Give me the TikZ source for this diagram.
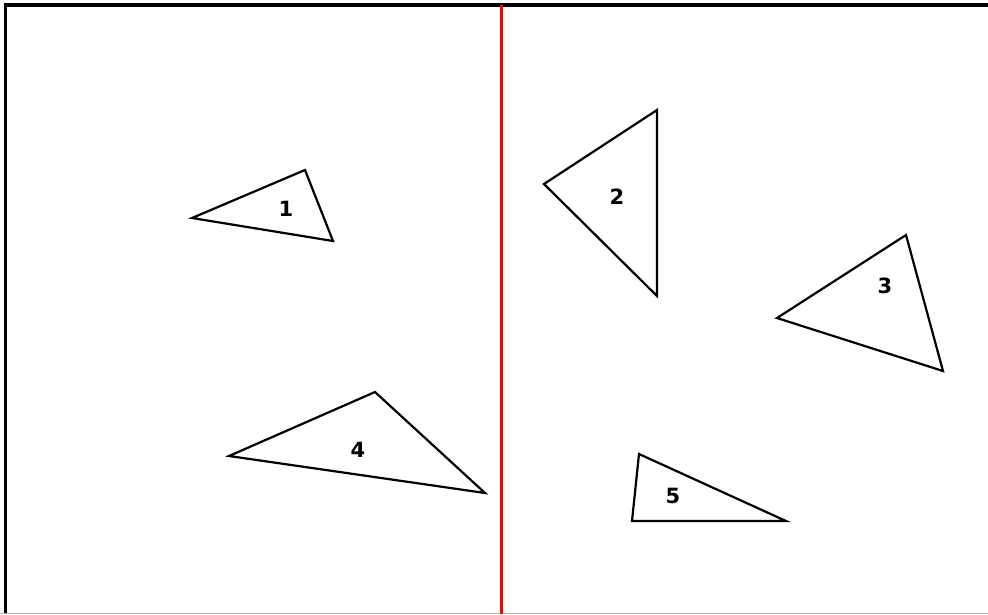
\documentclass[tikz,border=0pt]{standalone}
\usepackage{fontspec}
\usepackage{xcolor}
\usetikzlibrary{positioning}
\newfontfamily\labelfont{DejaVu Sans}
\definecolor{ink}{HTML}{000000}
\definecolor{splitred}{HTML}{FF0000}
\definecolor{edgegray}{HTML}{B4B4B4}
\tikzset{
  frame/.style={draw=ink,line width=3.5pt},
  splitline/.style={draw=splitred,line width=3pt},
  floorline/.style={draw=edgegray,line width=1.2pt},
  tri/.style={draw=ink,line width=2.2pt,line join=miter},
  num/.style={font=\labelfont\bfseries\fontsize{21}{21}\selectfont,text=ink,inner sep=0pt}
}
\begin{document}
\begin{tikzpicture}[x=1pt,y=-1pt]
  \useasboundingbox (0,0) rectangle (988,614);
  \fill[white] (0,0) rectangle (988,614);

  % frame and split
  \coordinate (tl) at (5.5,5);
  \coordinate (tr) at (988,5);
  \coordinate (bl) at (5.5,614);
  \draw[frame] (tr) -- (tl) -- (bl);
  \draw[floorline] (0,613.4) -- (988,613.4);
  \draw[splitline] (501,5) -- (501,614);

  % left half
  \draw[tri] (192,218) -- (305,170) -- (333,241) -- cycle;
  \node[num] (n1) at (286,209) {1};
  \draw[tri] (229,456) -- (375,392) -- (485,493) -- cycle;
  \node[num] (n4) at (358,450) {4};

  % right half
  \draw[tri] (544,184) -- (657,110) -- (657,296) -- cycle;
  \node[num] (n2) at (617,197) {2};
  \draw[tri] (777,318) -- (906,235) -- (943,371) -- cycle;
  \node[num] (n3) at (885,286) {3};
  \draw[tri] (639,454) -- (632,521) -- (786,521) -- cycle;
  \node[num] (n5) at (673,496) {5};
\end{tikzpicture}
\end{document}
